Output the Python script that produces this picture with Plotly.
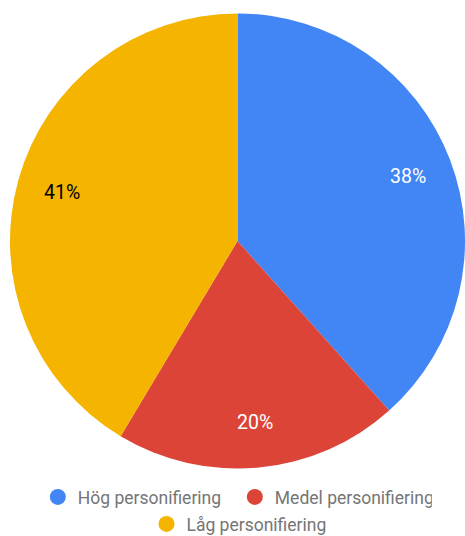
import math
import plotly.graph_objects as go

# Share of respondents per personalisation level
categories = ["Hög personifiering", "Medel personifiering", "Låg personifiering"]
shares = [38, 20, 41]
colors = ["#4285F4", "#DB4437", "#F4B400"]
text_colors = ["#FFFFFF", "#FFFFFF", "#000000"]
legend_rows = ["legend", "legend", "legend2"]

W, H = 465, 536
FONT = "Roboto, Arial, sans-serif"

# Pie placement in pixels (domain of the pie trace)
PIE_X0, PIE_X1 = 10, W
PIE_Y0, PIE_Y1 = 12, 470          # measured from the top
LABEL_RADIUS = 0.80               # label distance as a fraction of the radius

fig = go.Figure()

fig.add_trace(go.Pie(
    labels=categories,
    values=shares,
    sort=False,
    direction="clockwise",
    rotation=0,
    marker=dict(colors=colors, line=dict(width=0)),
    textinfo="none",
    showlegend=False,
    hoverinfo="label+percent",
    domain=dict(x=[PIE_X0 / W, PIE_X1 / W],
                y=[1 - PIE_Y1 / H, 1 - PIE_Y0 / H]),
))

# Percentage labels placed at the middle angle of each slice
cx = (PIE_X0 + PIE_X1) / 2
cy = (PIE_Y0 + PIE_Y1) / 2
radius = min(PIE_X1 - PIE_X0, PIE_Y1 - PIE_Y0) / 2
total = sum(shares)
start = 0.0
for v, tc in zip(shares, text_colors):
    mid = (start + v / 2) / total * 2 * math.pi
    start += v
    px = cx + LABEL_RADIUS * radius * math.sin(mid)
    py = cy - LABEL_RADIUS * radius * math.cos(mid)
    fig.add_annotation(
        x=px / W, y=1 - py / H, xref="paper", yref="paper",
        text=f"{v}%", showarrow=False,
        xanchor="center", yanchor="middle",
        font=dict(family=FONT, size=19.5, color=tc),
    )

# Round legend markers, one dummy trace per category
for name, col, lg in zip(categories, colors, legend_rows):
    fig.add_trace(go.Scatter(
        x=[None], y=[None], mode="markers", name=name,
        marker=dict(symbol="circle", size=16, color=col),
        showlegend=True, legend=lg, hoverinfo="skip",
    ))

legend_style = dict(
    orientation="h", xanchor="center", yanchor="middle",
    font=dict(family=FONT, size=17.5, color="#757575"),
    bgcolor="rgba(0,0,0,0)", itemclick=False, itemdoubleclick=False,
)

fig.update_layout(
    width=W, height=H,
    margin=dict(l=0, r=0, t=0, b=0, autoexpand=False),
    paper_bgcolor="white", plot_bgcolor="white",
    xaxis=dict(visible=False), yaxis=dict(visible=False),
    legend=dict(x=0.505, y=1 - 497 / H, entrywidth=152,
                entrywidthmode="pixels", **legend_style),
    legend2=dict(x=0.514, y=1 - 524 / H, **legend_style),
    font=dict(family=FONT),
)

fig.write_html("out.html")
